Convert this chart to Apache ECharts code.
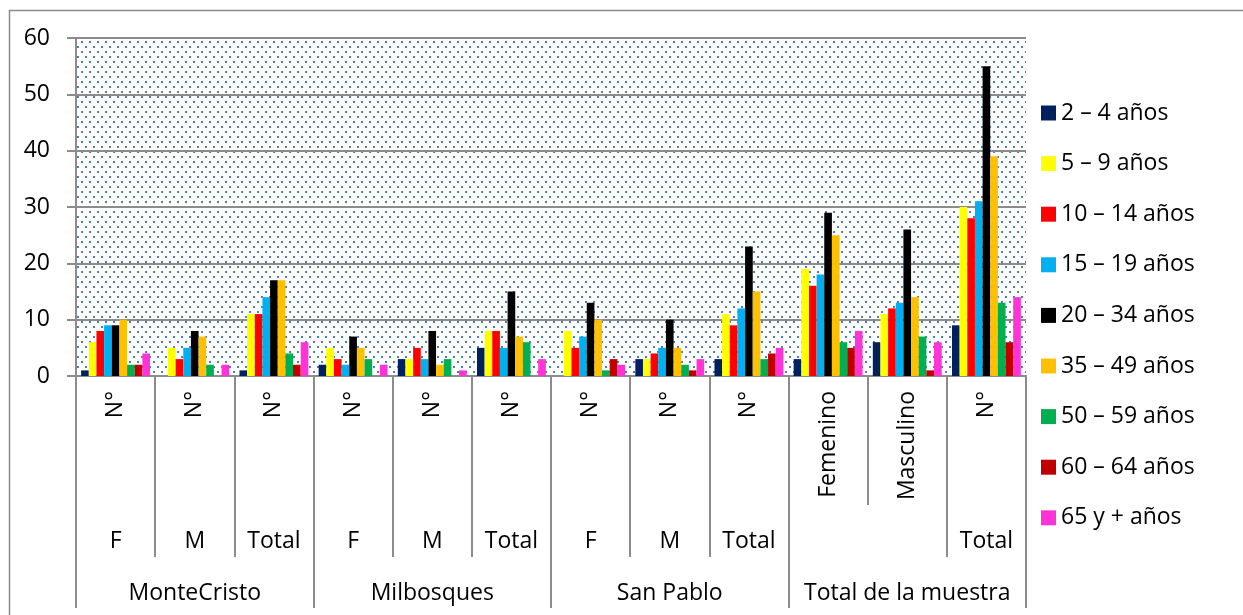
<!DOCTYPE html>
<html>
<head>
<meta charset="utf-8">
<script src="https://cdn.jsdelivr.net/npm/echarts@6/dist/echarts.min.js"></script>
<style>
    html, body { margin: 0; padding: 0; background: #fff; }
    #chart { width: 1243px; height: 615px; }
</style>
</head>
<body>
<div id="chart"></div>
<script>
// categorias en 3 niveles (como en Excel)
var nivel1 = ['N°', 'N°', 'N°', 'N°', 'N°', 'N°', 'N°', 'N°', 'N°', 'Femenino', 'Masculino', 'N°'];
var nivel2 = ['F', 'M', 'Total', 'F', 'M', 'Total', 'F', 'M', 'Total', '', '', 'Total'];
var nivel3 = ['MonteCristo', 'Milbosques', 'San Pablo', 'Total de la muestra'];

var grupos = ['2 – 4 años', '5 – 9 años', '10 – 14 años', '15 – 19 años', '20 – 34 años', '35 – 49 años', '50 – 59 años', '60 – 64 años', '65 y + años'];
var colores = ['#002060', '#ffff00', '#ff0000', '#00b0f0', '#000000', '#ffc000', '#00b050', '#c00000', '#ff33d6'];

var edad2a4 = [1, 0, 1, 2, 3, 5, 0, 3, 3, 3, 6, 9];
var edad5a9 = [6, 5, 11, 5, 3, 8, 8, 3, 11, 19, 11, 30];
var edad10a14 = [8, 3, 11, 3, 5, 8, 5, 4, 9, 16, 12, 28];
var edad15a19 = [9, 5, 14, 2, 3, 5, 7, 5, 12, 18, 13, 31];
var edad20a34 = [9, 8, 17, 7, 8, 15, 13, 10, 23, 29, 26, 55];
var edad35a49 = [10, 7, 17, 5, 2, 7, 10, 5, 15, 25, 14, 39];
var edad50a59 = [2, 2, 4, 3, 3, 6, 1, 2, 3, 6, 7, 13];
var edad60a64 = [2, 0, 2, 0, 0, 0, 3, 1, 4, 5, 1, 6];
var edad65 = [4, 2, 6, 2, 1, 3, 2, 3, 5, 8, 6, 14];

var yTicks = [0, 10, 20, 30, 40, 50, 60];

var fuente = 'Open Sans';
var gris = '#8c8c8c';

// pequeno ayudante para mezclar objetos
var $ = {
    extend : function(a, b) {
        var r = {};
        var k;
        for (k in a) { r[k] = a[k]; }
        for (k in b) { r[k] = b[k]; }
        return r;
    }
};

var chartObj = {
    init : function() {
        var mychart = echarts.init(document.getElementById('chart'));
        mychart.setOption(this.buildOption());
    },
    // fondo punteado del area de trazado
    makePattern : function() {
        var c = document.createElement('canvas');
        c.width = 8;
        c.height = 10;
        var ctx = c.getContext('2d');
        ctx.fillStyle = '#ffffff';
        ctx.fillRect(0, 0, 8, 10);
        ctx.fillStyle = '#4a7ebf';
        ctx.fillRect(1, 1, 2, 2);
        ctx.fillRect(5, 6, 2, 2);
        return { image : c, repeat : 'repeat' };
    },
    buildSeries : function() {
        var datos = [edad2a4, edad5a9, edad10a14, edad15a19, edad20a34, edad35a49, edad50a59, edad60a64, edad65];
        var series = [];
        datos.forEach(function(item, index) {
            series.push({
                name : grupos[index],
                type : 'bar',
                data : item,
                barGap : '0%',
                barCategoryGap : '13%',
                itemStyle : {
                    color : colores[index]
                }
            });
        });
        return series;
    },
    buildOption : function() {
        var txt = {
            color : '#000',
            fontFamily : fuente,
            fontSize : 23
        };
        return {
            backgroundColor : '#fff',
            animation : false,
            textStyle : { fontFamily : fuente },
            grid : {
                show : true,
                left : 76,
                right : 217,
                top : 38,
                bottom : 239,
                borderWidth : 0,
                backgroundColor : this.makePattern()
            },
            legend : {
                orient : 'vertical',
                left : 1036,
                top : 96.5,
                itemWidth : 15,
                itemHeight : 15,
                itemGap : 27.6,
                icon : 'rect',
                data : grupos,
                textStyle : txt
            },
            graphic : [{
                // borde exterior del grafico
                type : 'rect',
                left : 7,
                top : 8,
                shape : { width : 1300, height : 700 },
                style : { fill : 'none', stroke : gris, lineWidth : 1.5 },
                silent : true
            }],
            xAxis : [{
                type : 'category',
                position : 'bottom',
                data : nivel1,
                axisLine : { onZero : false, lineStyle : { color : gris, width : 2 } },
                axisTick : { show : true, interval : 0, length : 129, lineStyle : { color : gris, width : 2 } },
                axisLabel : $.extend({ interval : 0, rotate : 90, margin : 15 }, txt)
            }, {
                type : 'category',
                position : 'bottom',
                data : nivel2,
                axisLine : { onZero : false, lineStyle : { color : gris, width : 2 } },
                axisTick : {
                    show : true,
                    length : 181,
                    interval : function(index) {
                        return index !== 10;
                    },
                    lineStyle : { color : gris, width : 2 }
                },
                axisLabel : $.extend({ interval : 0, margin : 154 }, txt)
            }, {
                type : 'category',
                position : 'bottom',
                data : nivel3,
                axisLine : { onZero : false, lineStyle : { color : gris, width : 2 } },
                axisTick : { show : true, interval : 0, length : 232, lineStyle : { color : gris, width : 2 } },
                axisLabel : $.extend({ interval : 0, margin : 206 }, txt)
            }],
            yAxis : [{
                type : 'value',
                min : yTicks[0],
                max : yTicks[yTicks.length - 1],
                interval : yTicks[1] - yTicks[0],
                axisLine : { show : true, lineStyle : { color : gris, width : 2 } },
                axisTick : { show : true, length : 9, lineStyle : { color : gris, width : 2 } },
                splitLine : { show : true, lineStyle : { color : gris, width : 2 } },
                axisLabel : $.extend({ margin : 26 }, txt)
            }],
            series : this.buildSeries()
        };
    }
};

chartObj.init();
</script>
</body>
</html>
